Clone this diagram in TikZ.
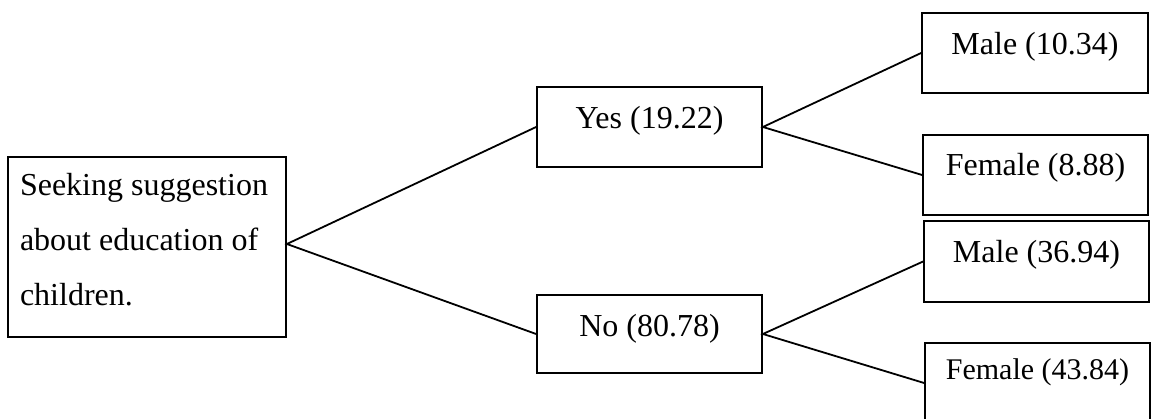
\documentclass[tikz,border=0pt]{standalone}
\usepackage{fontspec}
\setmainfont{Liberation Serif}
\begin{document}
\begin{tikzpicture}[x=1pt,y=-1pt,
  box/.style={draw=black, line width=1.8pt, inner xsep=0pt, inner ysep=0pt,
    font=\fontsize{32}{55}\selectfont, text height=42pt, text depth=38pt},
  conn/.style={draw=black, line width=1.8pt}]
\useasboundingbox (0,0) rectangle (1154,419);
\node[box, inner xsep=12pt, text height=39pt, text depth=141pt] (root) at (147,247)
  {\parbox[t]{254pt}{\raggedright Seeking suggestion\\about education of\\children.}};
\node[box, minimum width=225pt] (yes) at (649.5,127) {Yes (19.22)};
\node[box, minimum width=225pt, text depth=36pt] (no) at (649.5,334) {No (80.78)};
\node[box, minimum width=226pt] (m1) at (1035,53) {Male (10.34)};
\node[box, minimum width=225pt, text height=41pt, text depth=39pt] (f1) at (1035.5,175) {Female (8.88)};
\node[box, minimum width=225pt, text height=42pt, text depth=39pt] (m2) at (1036.5,261.5) {Male (36.94)};
\node[box, minimum width=225pt, font=\fontsize{30}{35}\selectfont, text height=37pt, text depth=43pt] (f2) at (1037.5,383) {Female (43.84)};
\coordinate (split) at ([yshift=3pt]root.east);
\draw[conn] (yes.west) -- (split) -- (no.west);
\draw[conn] (m1.west) -- (yes.east) -- (f1.west);
\draw[conn] (m2.west) -- (no.east) -- (f2.west);
\end{tikzpicture}
\end{document}
